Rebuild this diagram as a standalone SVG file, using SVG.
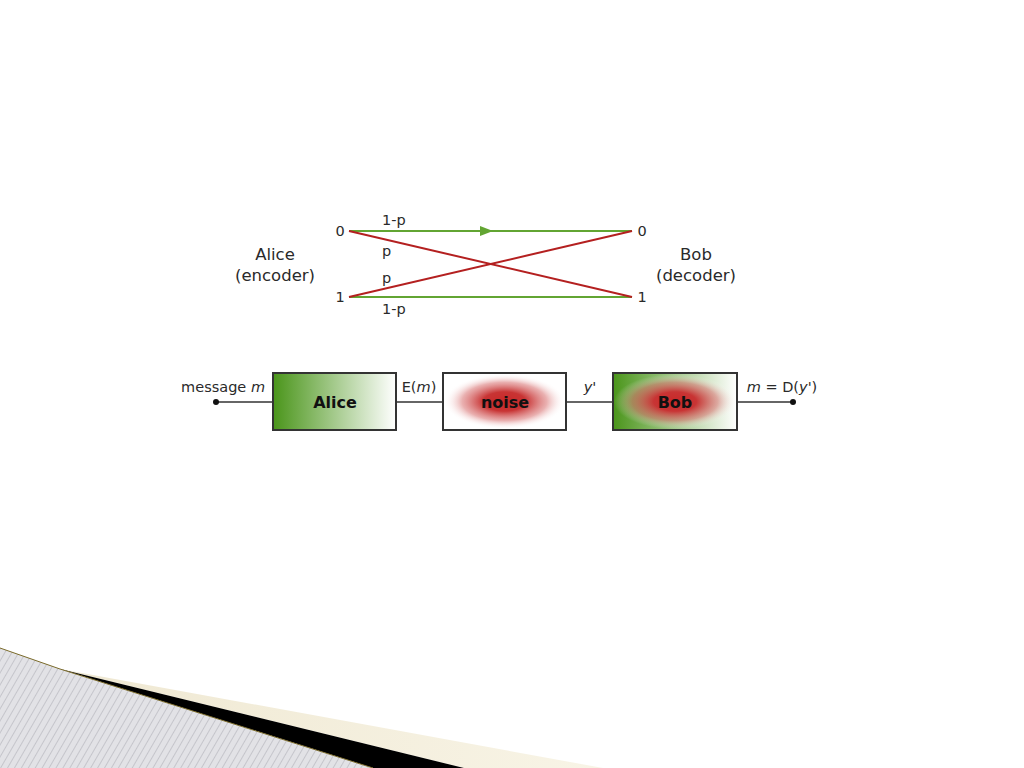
<svg xmlns="http://www.w3.org/2000/svg" width="1024" height="768" viewBox="0 0 1024 768">
<style>
text{font-family:"DejaVu Sans","Liberation Sans",sans-serif;fill:#2a2a2a}
.lbl{font-size:14.5px}
.side{font-size:16.5px;text-anchor:middle}
.big{font-size:16px;font-weight:bold;fill:#111;text-anchor:middle}
.g{stroke:#62a532;stroke-width:2;fill:none}
.r{stroke:#b42020;stroke-width:2;fill:none}
.w{stroke:#333;stroke-width:1.5;fill:none}
.box{stroke:#333;stroke-width:2}
</style>
<defs>
<linearGradient id="gl" x1="0" y1="0" x2="1" y2="0">
<stop offset="0" stop-color="#4a951a"/>
<stop offset="1" stop-color="#ffffff"/>
</linearGradient>
<radialGradient id="rr" cx="0.5" cy="0.5" r="0.5">
<stop offset="0" stop-color="#c82828"/>
<stop offset="0.35" stop-color="#c83434"/>
<stop offset="0.7" stop-color="#d87070" stop-opacity="0.55"/>
<stop offset="1" stop-color="#ffffff" stop-opacity="0"/>
</radialGradient>
<pattern id="hatch" width="6" height="6" patternUnits="userSpaceOnUse" patternTransform="rotate(30)">
<rect width="6" height="6" fill="#e2e2e6"/>
<line x1="0" y1="0" x2="0" y2="6" stroke="#a8a8b0" stroke-width="1"/>
</pattern>
<linearGradient id="cream" x1="0" y1="0" x2="1" y2="0">
<stop offset="0" stop-color="#efe8d2"/>
<stop offset="1" stop-color="#f8f4e6"/>
</linearGradient>
</defs>
<rect width="1024" height="768" fill="#ffffff"/>

<!-- bottom-left decoration -->
<polygon points="60,669 603,768 464,768" fill="url(#cream)"/>
<polygon points="60,669 464,768 373,768" fill="#000"/>
<polygon points="0,648 60,669 373,768 0,768" fill="url(#hatch)"/>
<polyline points="0,648 60,669 373,768" fill="none" stroke="#7a6a2a" stroke-width="1"/>

<!-- channel diagram -->
<g id="connectors-channel">
<line class="g" x1="349" y1="231" x2="632" y2="231"/>
<path d="M480,226 L493,231 L480,236 Z" fill="#62a532"/>
<line class="g" x1="349" y1="297" x2="632" y2="297"/>
<line class="r" x1="349" y1="231" x2="632" y2="297"/>
<line class="r" x1="349" y1="297" x2="632" y2="231"/>
</g>
<g id="alice-label"><text class="side" x="275" y="260">Alice</text><text class="side" x="275" y="281">(encoder)</text></g>
<g id="bob-label"><text class="side" x="696" y="260">Bob</text><text class="side" x="696" y="281">(decoder)</text></g>
<g id="in0"><text class="lbl" x="340" y="236" text-anchor="middle">0</text></g>
<g id="in1"><text class="lbl" x="340" y="302" text-anchor="middle">1</text></g>
<g id="out0"><text class="lbl" x="642" y="236" text-anchor="middle">0</text></g>
<g id="out1"><text class="lbl" x="642" y="302" text-anchor="middle">1</text></g>
<g id="probs">
<text class="lbl" x="382" y="225">1-p</text>
<text class="lbl" x="382" y="256">p</text>
<text class="lbl" x="382" y="283">p</text>
<text class="lbl" x="382" y="314">1-p</text>
</g>

<!-- block diagram -->
<g id="connectors-blocks">
<line class="w" x1="216" y1="402" x2="273" y2="402"/>
<line class="w" x1="396" y1="402" x2="443" y2="402"/>
<line class="w" x1="566" y1="402" x2="613" y2="402"/>
<line class="w" x1="737" y1="402" x2="793" y2="402"/>
<circle cx="216" cy="402" r="3" fill="#111"/>
<circle cx="793" cy="402" r="3" fill="#111"/>
</g>
<g id="alice">
<rect class="box" x="273" y="373" width="123" height="57" fill="url(#gl)"/>
<text class="big" x="335" y="408">Alice</text>
</g>
<g id="noise">
<rect class="box" x="443" y="373" width="123" height="57" fill="#fff"/>
<rect x="444" y="374" width="121" height="55" fill="url(#rr)"/>
<text class="big" x="505" y="408">noise</text>
</g>
<g id="bob">
<rect class="box" x="613" y="373" width="124" height="57" fill="url(#gl)"/>
<rect x="614" y="374" width="122" height="55" fill="url(#rr)"/>
<text class="big" x="675" y="408">Bob</text>
</g>
<g id="labels">
<text class="lbl" x="265" y="392" text-anchor="end">message <tspan font-style="italic">m</tspan></text>
<text class="lbl" x="419" y="392" text-anchor="middle">E(<tspan font-style="italic">m</tspan>)</text>
<text class="lbl" x="590" y="392" text-anchor="middle" font-style="italic">y'</text>
<text class="lbl" x="782" y="392" text-anchor="middle"><tspan font-style="italic">m</tspan> = D(<tspan font-style="italic">y</tspan>')</text>
</g>
</svg>
